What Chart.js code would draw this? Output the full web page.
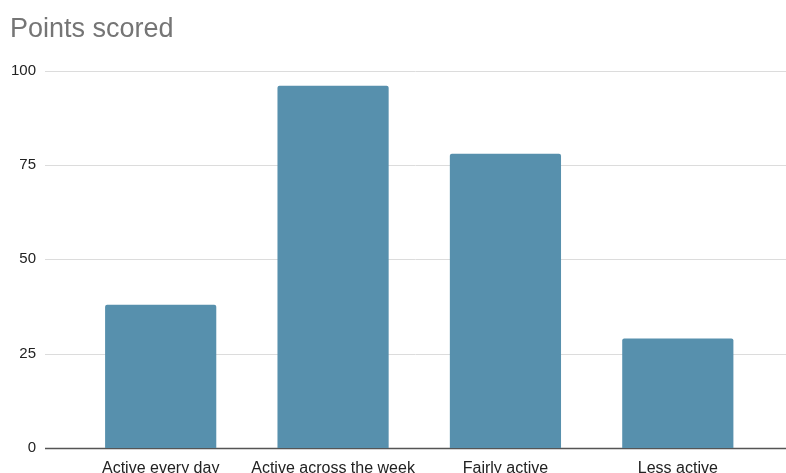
<!DOCTYPE html>
<html>
<head>
<meta charset="utf-8">
<script src="https://cdn.jsdelivr.net/npm/chart.js@4"></script>
<style>
  html, body { margin: 0; padding: 0; background: #fff; overflow: hidden; }
  canvas { display: block; }
</style>
</head>
<body>
<canvas id="chart" width="786" height="473"></canvas>
<script>
// Data
const categories = ['Active every day', 'Active across the week', 'Fairly active', 'Less active'];
const points = [38, 96, 78, 29];
const yTicks = [0, 25, 50, 75, 100];

const FONT = "'Liberation Sans', Arial, sans-serif";

// Gridlines that run past the plot area on both sides
const wideGrid = {
    id: 'wideGrid',
    beforeDatasetsDraw(chart) {
        const ctx = chart.ctx;
        const y = chart.scales.y;
        const area = chart.chartArea;
        const x0 = area.left - 29.5;
        const x1 = area.right + 22;
        ctx.save();
        yTicks.forEach(v => {
            const py = Math.round(y.getPixelForValue(v)) + 0.5;
            ctx.beginPath();
            ctx.strokeStyle = v === 0 ? '#555555' : '#dcdcdc';
            ctx.lineWidth = v === 0 ? 1.4 : 1;
            ctx.moveTo(x0, py);
            ctx.lineTo(x1, py);
            ctx.stroke();
        });
        ctx.restore();
    }
};

new Chart(document.getElementById('chart'), {
    type: 'bar',
    data: {
        labels: categories,
        datasets: [{
            label: 'Points scored',
            data: points,
            backgroundColor: '#5790ad',
            borderRadius: 2,
            borderSkipped: 'bottom',
            barPercentage: 1,
            categoryPercentage: 0.645
        }]
    },
    options: {
        responsive: false,
        animation: false,
        layout: { padding: { left: 10, right: 22, top: 0, bottom: 0 } },
        plugins: {
            legend: { display: false },
            tooltip: { enabled: false },
            title: {
                display: true,
                text: 'Points scored',
                align: 'start',
                color: '#757575',
                font: { family: FONT, size: 27, weight: 'normal' },
                padding: { top: 13.5, bottom: 24.8 }
            }
        },
        scales: {
            x: {
                grid: { display: false, drawTicks: false },
                border: { display: false },
                ticks: {
                    color: '#222222',
                    font: { family: FONT, size: 16 },
                    padding: 10.5,
                    maxRotation: 0,
                    autoSkip: false
                },
                afterFit: scale => { scale.height = 25; }
            },
            y: {
                min: 0,
                max: 100,
                afterBuildTicks: scale => { scale.ticks = yTicks.map(v => ({ value: v })); },
                grid: { display: false, drawTicks: false },
                border: { display: false },
                ticks: {
                    color: '#222222',
                    font: { family: FONT, size: 15 },
                    padding: 38.5
                },
                afterFit: scale => {
                    scale.width = 64.5;
                    // label padding would otherwise push the plot bottom up
                    scale.paddingTop = 9;
                    scale.paddingBottom = 9;
                }
            }
        }
    },
    plugins: [wideGrid]
});
</script>
</body>
</html>
